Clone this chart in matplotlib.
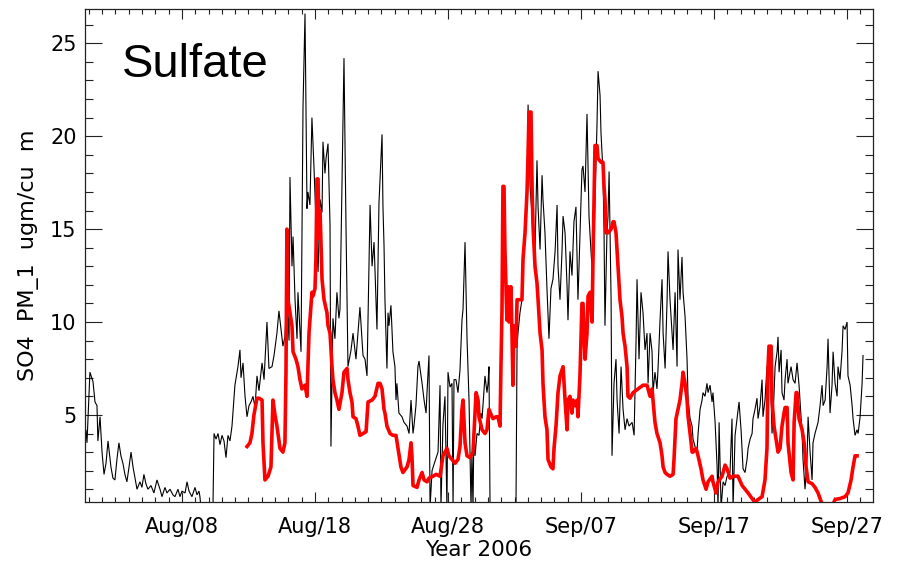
import numpy as np
import matplotlib
matplotlib.use("Agg")
import matplotlib.pyplot as plt
from matplotlib.ticker import MultipleLocator, FixedLocator

# time in days since 2006-07-31 00:00 (Aug 08 = 8, Sep 07 = 38, ...)
obs_day = [0.71, 0.78, 0.86, 1.08, 1.31, 1.46, 1.61, 1.68, 1.84, 1.99, 2.14, 2.29, 2.44, 2.66, 2.81, 2.96,
           3.11, 3.26, 3.41, 3.56, 3.71, 3.86, 4.02, 4.17, 4.32, 4.47, 4.62, 4.84, 4.99, 5.14, 5.29, 5.44,
           5.67, 5.89, 6.12, 6.35, 6.50, 6.72, 6.87, 7.10, 7.32, 7.47, 7.70, 7.85, 8.00, 8.23, 8.38, 8.53,
           8.75, 8.98, 9.13, 9.28, 9.35, 9.43, 10.33, 10.41, 10.56, 10.71, 10.86, 11.01, 11.16, 11.31, 11.46,
           11.61, 11.76, 11.98, 12.21, 12.36, 12.44, 12.59, 12.74, 12.89, 13.04, 13.19, 13.34, 13.49, 13.64,
           13.79, 14.02, 14.17, 14.39, 14.54, 14.77, 14.92, 15.14, 15.29, 15.37, 15.59, 15.74, 15.89, 16.05,
           16.12, 16.27, 16.35, 16.50, 16.65, 16.72, 16.95, 17.10, 17.25, 17.40, 17.47, 17.62, 17.77, 17.92,
           18.07, 18.23, 18.38, 18.53, 18.60, 18.75, 18.83, 18.98, 19.13, 19.20, 19.35, 19.50, 19.65, 19.80,
           19.88, 20.03, 20.18, 20.33, 20.48, 20.71, 20.86, 21.08, 21.23, 21.38, 21.61, 21.76, 21.91, 22.14,
           22.29, 22.44, 22.66, 22.81, 23.04, 23.11, 23.19, 23.26, 23.41, 23.49, 23.56, 23.71, 23.86, 24.01,
           24.09, 24.16, 24.31, 24.54, 24.69, 24.92, 25.07, 25.22, 25.37, 25.44, 25.59, 25.74, 25.82, 26.05,
           26.20, 26.35, 26.42, 26.57, 26.65, 26.80, 27.02, 27.25, 27.40, 27.47, 27.62, 27.77, 27.92, 28.00,
           28.15, 28.30, 28.38, 28.45, 28.60, 28.75, 28.90, 29.05, 29.13, 29.28, 29.35, 29.43, 29.58, 29.73,
           29.80, 29.88, 29.95, 30.03, 30.18, 30.33, 30.48, 30.56, 30.71, 30.78, 30.93, 31.01, 31.08, 31.16,
           33.11, 33.19, 33.26, 33.41, 33.56, 33.64, 33.79, 33.94, 34.02, 34.17, 34.32, 34.39, 34.54, 34.69,
           34.77, 34.92, 35.07, 35.14, 35.29, 35.44, 35.59, 35.74, 35.89, 36.05, 36.20, 36.27, 36.42, 36.57,
           36.65, 36.80, 36.95, 37.02, 37.17, 37.32, 37.47, 37.62, 37.77, 37.85, 38.07, 38.15, 38.30, 38.45,
           38.60, 38.75, 38.90, 39.05, 39.20, 39.28, 39.43, 39.50, 39.65, 39.73, 39.80, 39.95, 40.03, 40.11,
           40.26, 40.33, 40.48, 40.63, 40.71, 40.86, 41.01, 41.16, 41.31, 41.46, 41.61, 41.84, 41.99, 42.14,
           42.21, 42.36, 42.51, 42.66, 42.81, 42.96, 43.04, 43.19, 43.34, 43.41, 43.56, 43.71, 43.79, 43.94,
           44.09, 44.17, 44.32, 44.47, 44.54, 44.69, 44.84, 44.92, 45.07, 45.22, 45.29, 45.44, 45.59, 45.67,
           45.82, 45.97, 46.05, 46.20, 46.35, 46.42, 46.57, 46.72, 46.80, 46.95, 47.10, 47.17, 47.32, 47.47,
           47.55, 47.70, 47.85, 47.92, 48.08, 48.23, 48.30, 48.38, 48.53, 48.68, 48.83, 48.98, 49.20, 49.35,
           49.43, 49.58, 49.73, 49.88, 50.03, 50.18, 50.33, 50.48, 50.56, 50.71, 50.86, 50.93, 51.08, 51.23,
           51.31, 51.46, 51.61, 51.68, 51.83, 51.98, 52.06, 52.21, 52.36, 52.44, 52.59, 52.74, 52.81, 52.89,
           53.04, 53.11, 53.26, 53.34, 53.49, 53.56, 53.79, 53.94, 54.09, 54.24, 54.39, 54.62, 54.69, 54.84,
           54.99, 55.07, 55.22, 55.37, 55.44, 55.59, 55.74, 55.82, 55.97, 56.12, 56.20, 56.35, 56.50, 56.57,
           56.72, 56.87, 56.95, 57.10, 57.25, 57.32, 57.47, 57.62, 57.70, 57.85, 58.00, 58.07, 58.23, 58.38,
           58.45, 58.60, 58.75, 58.83, 58.98, 59.13, 59.20]
obs_so4 = [3.4, 4.2, 3.5, 7.3, 6.8, 5.7, 5.5, 3.6, 4.9, 3.0, 1.8, 2.4, 3.6, 2.2, 1.6, 1.5,
           2.6, 3.5, 2.8, 2.4, 1.8, 1.4, 2.2, 3.0, 2.2, 1.6, 1.0, 1.4, 1.1, 1.8, 1.3, 1.0,
           1.2, 0.8, 1.5, 1.0, 0.6, 1.1, 0.8, 1.0, 0.7, 0.6, 1.0, 0.6, 0.9, 0.8, 1.4, 0.9,
           0.6, 1.1, 0.7, 0.9, 0.6, 0.0, 0.0, 4.0, 3.7, 4.0, 3.4, 3.9, 3.6, 2.7, 3.9,
           3.6, 4.4, 6.6, 7.6, 8.5, 7.0, 7.8, 6.0, 4.9, 5.5, 5.7, 6.0, 5.4, 7.1,
           6.3, 7.8, 6.9, 10.0, 7.5, 7.6, 8.2, 9.4, 10.6, 10.1, 8.7, 9.2, 11.2, 9.0,
           17.8, 13.0, 14.6, 11.2, 9.1, 11.6, 8.4, 21.6, 26.6, 16.1, 17.0, 16.3, 21.0, 18.4,
           15.5, 12.7, 16.6, 15.9, 19.7, 18.0, 18.8, 19.6, 15.2, 3.3, 10.2, 9.1, 11.6, 10.2,
           10.7, 17.3, 24.2, 15.2, 7.6, 8.5, 9.4, 8.0, 9.4, 10.8, 8.2, 8.0, 7.1, 16.3,
           13.0, 14.3, 9.6, 16.4, 20.1, 16.2, 14.1, 11.2, 7.5, 10.5, 9.8, 10.9, 8.4, 7.6,
           5.8, 6.7, 5.1, 4.9, 4.6, 4.4, 4.0, 5.8, 4.0, 4.4, 5.5, 7.6, 7.9, 6.7,
           5.8, 5.1, 6.2, 8.2, 0.0, 2.0, 2.5, 3.0, 6.6, 0.0, 4.5, 6.0, 0.0, 7.3,
           6.5, 6.7, 0.0, 6.9, 6.9, 6.2, 7.4, 10.1, 10.7, 14.3, 11.9, 9.1, 5.8, 0.0,
           3.0, 0.0, 4.5, 2.8, 4.0, 3.9, 5.1, 4.8, 6.4, 7.1, 6.2, 6.7, 7.6, 0.0,
           0.0, 8.7, 9.4, 10.5, 11.2, 13.0, 14.8, 17.0, 21.7, 17.3, 15.7, 14.8, 13.8, 18.7,
           16.2, 13.9, 17.9, 16.6, 14.8, 11.8, 9.1, 11.8, 12.3, 13.8, 16.3, 13.0, 11.2, 13.8,
           15.7, 14.8, 11.9, 10.1, 13.8, 12.5, 15.4, 16.2, 11.2, 13.0, 18.2, 18.4, 17.0, 21.2,
           15.7, 13.8, 12.1, 16.6, 20.6, 23.5, 22.2, 20.2, 18.1, 14.8, 9.8, 14.8, 15.7, 18.1,
           11.2, 2.8, 6.7, 8.0, 5.8, 4.0, 7.6, 5.3, 4.2, 4.8, 4.4, 4.6, 3.9, 9.1,
           12.3, 8.0, 11.6, 10.5, 8.5, 9.4, 6.7, 9.4, 8.4, 6.2, 7.3, 6.4, 7.5, 10.1,
           12.3, 9.4, 7.5, 11.2, 13.8, 11.2, 9.4, 8.5, 11.6, 7.6, 13.9, 11.2, 13.5, 11.6,
           10.3, 8.0, 5.8, 4.8, 4.4, 3.7, 3.3, 3.0, 4.0, 5.3, 5.8, 6.2, 6.0, 6.7,
           6.2, 6.6, 5.7, 6.2, 4.6, 2.2, 0.0, 4.6, 0.0, 1.4, 1.2, 1.7, 1.9, 4.8,
           0.0, 3.9, 4.8, 5.7, 4.2, 2.1, 1.9, 2.6, 3.2, 3.7, 4.0, 4.8, 5.3, 5.9,
           4.8, 5.5, 6.9, 4.9, 5.8, 7.6, 6.7, 8.0, 4.0, 4.9, 7.6, 8.4, 9.2, 7.3,
           8.5, 6.2, 5.8, 6.9, 8.0, 6.7, 7.6, 6.9, 6.7, 7.8, 6.6, 4.0, 2.6, 1.0,
           2.6, 4.9, 3.0, 1.5, 3.5, 4.0, 4.4, 4.6, 5.5, 6.6, 5.5, 5.8, 7.6, 9.1,
           5.1, 6.6, 8.4, 6.7, 6.0, 7.6, 6.9, 8.4, 9.8, 9.6, 10.0, 7.1, 6.6, 5.5,
           4.8, 3.9, 4.2, 4.0, 4.9, 6.7, 8.2]

model_day = [12.89, 13.11, 13.26, 13.41, 13.64, 13.79, 14.02, 14.09, 14.24, 14.47, 14.69, 14.84, 14.99,
             15.14, 15.37, 15.59, 15.74, 15.82, 15.89, 15.97, 16.12, 16.27, 16.35, 16.57, 16.72, 16.87,
             17.02, 17.25, 17.40, 17.55, 17.77, 17.85, 18.00, 18.07, 18.15, 18.23, 18.30, 18.38, 18.53,
             18.68, 18.90, 18.98, 19.13, 19.28, 19.35, 19.50, 19.65, 19.80, 20.03, 20.18, 20.41, 20.48,
             20.63, 20.78, 20.86, 21.08, 21.23, 21.38, 21.61, 21.84, 21.99, 22.29, 22.51, 22.74, 22.89,
             23.04, 23.19, 23.26, 23.41, 23.64, 23.86, 24.09, 24.24, 24.46, 24.61, 24.92, 25.07, 25.22,
             25.29, 25.37, 25.67, 25.82, 26.05, 26.20, 26.42, 26.57, 26.87, 27.10, 27.40, 27.62, 27.77,
             27.92, 28.07, 28.30, 28.53, 28.75, 28.90, 29.05, 29.13, 29.28, 29.43, 29.65, 29.88, 29.95,
             30.11, 30.26, 30.33, 30.56, 30.78, 30.93, 31.08, 31.31, 31.38, 31.61, 31.76, 31.91, 31.98,
             32.06, 32.13, 32.21, 32.28, 32.43, 32.51, 32.58, 32.73, 32.81, 32.88, 32.96, 33.11, 33.19,
             33.34, 33.56, 33.64, 33.79, 33.94, 34.02, 34.09, 34.24, 34.32, 34.39, 34.54, 34.69, 34.77,
             34.92, 35.07, 35.14, 35.29, 35.44, 35.52, 35.74, 35.89, 35.97, 36.12, 36.27, 36.42, 36.65,
             36.80, 36.95, 37.02, 37.17, 37.32, 37.40, 37.55, 37.70, 37.77, 37.92, 38.07, 38.15, 38.30,
             38.45, 38.53, 38.68, 38.83, 38.90, 38.98, 39.05, 39.20, 39.28, 39.50, 39.65, 39.73, 39.80,
             39.88, 40.03, 40.26, 40.41, 40.48, 40.63, 40.78, 40.93, 41.08, 41.16, 41.31, 41.46, 41.53,
             41.68, 41.91, 42.29, 42.66, 42.96, 43.19, 43.34, 43.41, 43.56, 43.71, 43.94, 44.09, 44.17,
             44.32, 44.47, 44.69, 44.92, 44.99, 45.14, 45.29, 45.44, 45.59, 45.67, 45.82, 45.97, 46.05,
             46.20, 46.35, 46.42, 46.65, 46.80, 47.02, 47.17, 47.40, 47.55, 47.85, 47.92, 48.15, 48.30,
             48.60, 48.83, 48.98, 49.20, 49.43, 49.80, 50.11, 50.33, 50.56, 50.86, 51.08, 51.31, 51.61,
             51.83, 51.98, 52.06, 52.13, 52.29, 52.36, 52.51, 52.66, 52.81, 52.96, 53.11, 53.26, 53.34,
             53.49, 53.56, 53.79, 53.94, 54.02, 54.17, 54.24, 54.39, 54.62, 54.77, 54.92, 55.07, 55.37,
             55.59, 55.82, 56.12, 56.95, 57.10, 57.47, 57.85, 58.07, 58.30, 58.45, 58.60, 58.75]
model_so4 = [3.3, 3.5, 4.0, 5.0, 5.9, 5.9, 5.8, 3.5, 1.5, 1.7, 2.2, 5.8, 5.0,
             4.4, 3.2, 3.0, 3.5, 7.3, 15.0, 11.2, 10.5, 9.8, 8.4, 8.0, 7.6, 6.9,
             6.4, 6.6, 6.0, 9.4, 11.6, 11.4, 11.8, 13.4, 17.7, 17.7, 14.5, 16.0, 12.3,
             11.2, 10.5, 9.8, 9.4, 7.6, 6.9, 6.2, 5.8, 5.3, 6.2, 7.3, 7.5, 6.9,
             6.2, 5.7, 4.9, 4.8, 4.4, 3.9, 4.0, 4.1, 5.7, 5.8, 6.0, 6.7, 6.7,
             6.4, 5.3, 5.1, 4.4, 4.0, 3.9, 3.9, 3.2, 2.2, 1.9, 2.2, 2.6, 3.5,
             2.8, 1.2, 1.1, 1.5, 1.9, 1.5, 1.4, 1.6, 1.7, 1.8, 1.7, 2.8, 3.0,
             3.2, 2.8, 2.6, 2.4, 2.6, 3.3, 5.3, 5.8, 3.5, 2.8, 2.7, 3.0, 4.0,
             6.2, 5.8, 4.9, 4.2, 4.0, 4.2, 5.3, 4.9, 4.8, 4.9, 4.9, 4.4, 7.6,
             10.7, 17.3, 17.3, 13.9, 10.1, 11.9, 10.0, 11.9, 9.4, 6.6, 9.8, 8.7, 11.2,
             11.2, 11.2, 13.4, 14.8, 17.0, 19.1, 21.3, 21.3, 17.3, 15.2, 13.0, 12.1, 11.2,
             9.4, 8.5, 6.7, 4.9, 4.2, 2.6, 2.2, 2.1, 3.2, 4.4, 6.2, 7.1, 7.6,
             5.8, 4.2, 5.8, 6.0, 5.1, 5.8, 5.5, 5.8, 4.9, 7.1, 11.0, 11.0, 8.0,
             9.4, 11.4, 11.6, 10.0, 13.4, 16.6, 19.5, 19.5, 18.8, 18.6, 18.6, 17.3, 16.6,
             14.8, 14.8, 15.0, 15.4, 15.4, 14.8, 13.0, 11.2, 10.3, 9.4, 8.7, 7.6, 6.0,
             5.9, 6.2, 6.4, 6.6, 6.6, 6.0, 6.4, 5.8, 4.6, 4.0, 3.5, 2.8, 2.2,
             1.9, 1.8, 1.7, 1.8, 2.6, 4.8, 5.3, 5.8, 6.7, 7.3, 6.7, 5.8, 4.9,
             4.0, 3.0, 3.0, 3.2, 2.8, 2.1, 1.5, 1.0, 1.4, 1.7, 1.4, 0.8, 1.4,
             1.7, 2.3, 2.1, 1.6, 1.7, 1.7, 1.2, 1.0, 0.8, 0.5, 0.3, 0.45, 0.6,
             1.5, 3.2, 7.6, 8.7, 8.7, 5.8, 4.4, 3.7, 3.0, 3.2, 4.4, 5.1, 5.4,
             5.4, 3.5, 1.9, 1.5, 4.6, 6.2, 6.2, 4.8, 4.2, 3.5, 2.2, 1.4, 1.3,
             1.1, 0.8, 0.2, 0.2, 0.45, 0.5, 0.6, 0.8, 1.5, 2.2, 2.8, 2.8]

tick_days = [8, 18, 28, 38, 48, 58]
tick_labels = ['Aug/08', 'Aug/18', 'Aug/28', 'Sep/07', 'Sep/17', 'Sep/27']
y_ticks = [5, 10, 15, 20, 25]

fig = plt.figure(figsize=(8.97, 5.62), dpi=100)
ax = fig.add_axes([85/897, 1 - 501.7/562, (873 - 85)/897, (501.7 - 9.3)/562])

ax.plot(obs_day, obs_so4, color='black', lw=0.8, solid_joinstyle='miter')
ax.plot(model_day, model_so4, color='#ff0000', lw=2.6)

ax.set_xlim(0.71, 59.95)
ax.set_ylim(0.33, 26.83)

ax.xaxis.set_major_locator(FixedLocator(tick_days))
ax.set_xticklabels(tick_labels)
ax.xaxis.set_minor_locator(MultipleLocator(1))
ax.yaxis.set_major_locator(FixedLocator(y_ticks))
ax.yaxis.set_minor_locator(MultipleLocator(1))

ax.tick_params(axis='both', which='both', direction='in', top=True, right=True,
               width=0.8, color='#222222', labelsize=15)
ax.tick_params(axis='x', which='major', length=7.5, pad=11)
ax.tick_params(axis='x', which='minor', length=3.8)
ax.tick_params(axis='y', which='major', length=12, pad=6)
ax.tick_params(axis='y', which='minor', length=6)
for s in ax.spines.values():
    s.set_linewidth(0.9)
    s.set_color('#222222')

ax.set_xlabel('Year 2006', fontsize=15.5, labelpad=2)
ax.set_ylabel('SO4  PM_1  ugm/cu  m', fontsize=16, labelpad=8)

ax.text(122/897 - 85/897 + 0.0, 0, '', transform=ax.transAxes)
ax.text((122 - 85) / 788, (501.7 - 77) / 492.4, 'Sulfate', transform=ax.transAxes,
        fontsize=34, family='Liberation Sans', va='baseline', ha='left')

fig.savefig('out.png', dpi=100)
